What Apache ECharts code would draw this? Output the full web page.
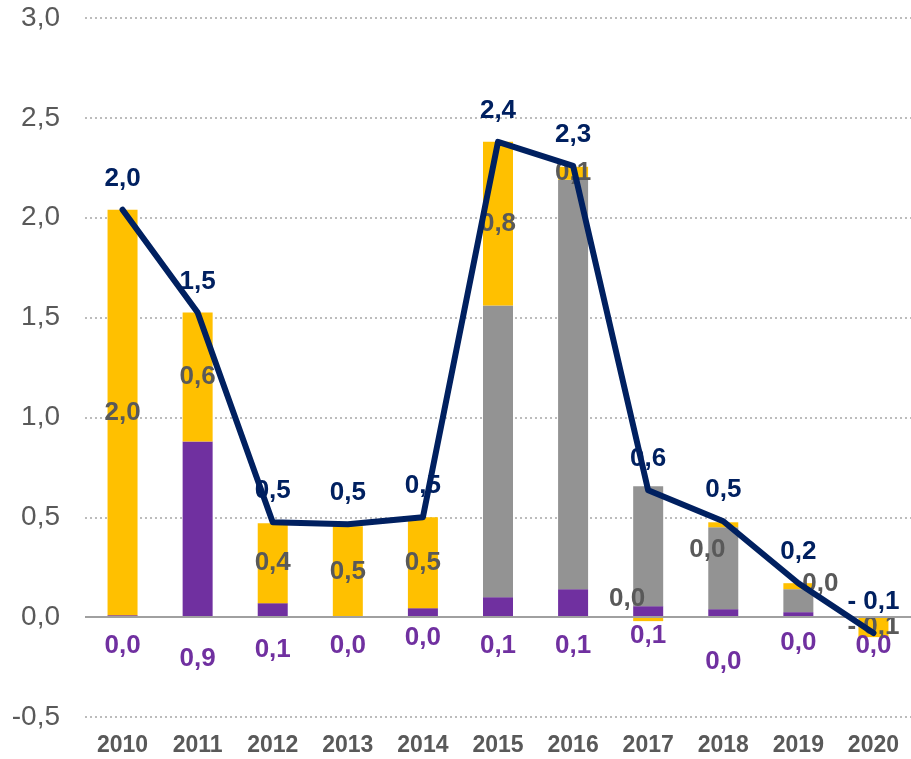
<!DOCTYPE html>
<html>
<head>
<meta charset="utf-8">
<script src="https://cdn.jsdelivr.net/npm/echarts@6/dist/echarts.min.js"></script>
<style>
  html, body { margin: 0; padding: 0; background: #fff; }
  #main { width: 911px; height: 759px; }
</style>
</head>
<body>
<div id="main"></div>
<script>
const years = ['2010', '2011', '2012', '2013', '2014', '2015', '2016', '2017', '2018', '2019', '2020'];
const purple = [0.01, 0.88, 0.07, 0.0, 0.045, 0.10, 0.14, 0.055, 0.04, 0.025, 0.005];
const gray = [0, 0, 0, 0, 0, 1.46, 2.05, 0.60, 0.41, 0.115, 0];
const yellow = [2.03, 0.645, 0.40, 0.455, 0.455, 0.82, 0.065, -0.02, 0.025, 0.03, -0.10];
const total = [2.04, 1.525, 0.475, 0.465, 0.50, 2.38, 2.26, 0.635, 0.48, 0.17, -0.08];

// Beschriftungen sind im Original teilweise von Hand verschoben
const yellowShift = {7: [-21, -20], 8: [-16, 25], 9: [22, -2]};
const purpleShift = {1: [0, 13], 2: [0, 4], 4: [0, -8], 7: [0, -10], 8: [0, 16], 9: [0, -3]};

const FONT = 'Liberation Sans';

function fmt(v) {
  let s = v.toFixed(1);
  if (parseFloat(s) === 0) return '0,0';
  s = s.replace('.', ',');
  return v < 0 ? '- ' + s.slice(1) : s;
}

function withShift(arr, shift) {
  return arr.map((v, i) => shift[i] ? {value: v, label: {offset: shift[i]}} : v);
}

const chart = echarts.init(document.getElementById('main'), null, {renderer: 'canvas'});

chart.setOption({
  animation: false,
  grid: {left: 85, right: -7, top: 18, bottom: 42},
  xAxis: {
    type: 'category',
    data: years,
    axisLine: {show: false},
    axisTick: {show: false},
    axisLabel: {
      color: '#595959',
      fontFamily: FONT,
      fontWeight: 'bold',
      fontSize: 23,
      margin: 17
    }
  },
  yAxis: {
    type: 'value',
    min: -0.5,
    max: 3,
    interval: 0.5,
    axisLine: {show: false},
    axisTick: {show: false},
    axisLabel: {
      color: '#595959',
      fontFamily: FONT,
      fontSize: 28,
      margin: 25,
      formatter: v => v.toFixed(1).replace('.', ',')
    },
    splitLine: {
      lineStyle: {type: [2, 3], color: '#A6A6A6', width: 1.5}
    }
  },
  series: [
    {
      name: 'lila',
      type: 'bar',
      stack: 'a',
      barWidth: 30,
      data: withShift(purple, purpleShift),
      itemStyle: {color: '#7030A0'},
      label: {
        show: true,
        position: 'bottom',
        distance: 16,
        color: '#7030A0',
        fontFamily: FONT,
        fontWeight: 'bold',
        fontSize: 26,
        formatter: p => fmt(p.value)
      }
    },
    {
      name: 'grau',
      type: 'bar',
      stack: 'a',
      barWidth: 30,
      data: gray,
      itemStyle: {color: '#939393'},
      markLine: {
        silent: true,
        symbol: 'none',
        label: {show: false},
        lineStyle: {color: '#A0A0A0', type: 'solid', width: 2},
        data: [{yAxis: 0}]
      }
    },
    {
      name: 'gelb',
      type: 'bar',
      stack: 'a',
      barWidth: 30,
      data: withShift(yellow, yellowShift),
      itemStyle: {color: '#FFC000'},
      label: {
        show: true,
        position: 'inside',
        color: '#595959',
        fontFamily: FONT,
        fontWeight: 'bold',
        fontSize: 26,
        formatter: p => fmt(p.value)
      }
    },
    {
      name: 'gesamt',
      type: 'line',
      data: total,
      symbol: 'circle',
      symbolSize: 2,
      showSymbol: true,
      z: 5,
      itemStyle: {color: '#002060'},
      lineStyle: {color: '#002060', width: 6, cap: 'round', join: 'round'},
      label: {
        show: true,
        position: 'top',
        distance: 17,
        color: '#002060',
        fontFamily: FONT,
        fontWeight: 'bold',
        fontSize: 26,
        formatter: p => fmt(p.value)
      }
    }
  ]
});
</script>
</body>
</html>
